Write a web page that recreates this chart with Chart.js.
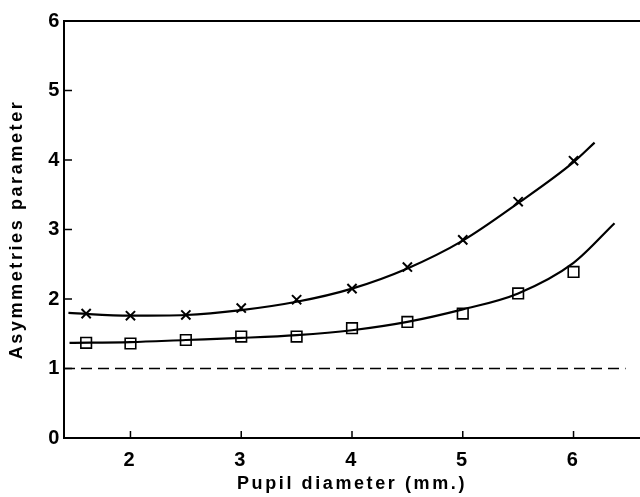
<!DOCTYPE html>
<html>
<head>
<meta charset="utf-8">
<script src="https://cdn.jsdelivr.net/npm/chart.js@4/dist/chart.umd.min.js"></script>
<style>
  html, body { margin: 0; padding: 0; background: #fff; }
  #wrap { width: 640px; height: 497px; }
</style>
</head>
<body>
<div id="wrap"><canvas id="myChart" width="640" height="497"></canvas></div>
<script>
// measured points
const pupil = [1.6, 2.0, 2.5, 3.0, 3.5, 4.0, 4.5, 5.0, 5.5, 6.0];
const crosses = [1.79, 1.76, 1.77, 1.87, 1.99, 2.15, 2.46, 2.85, 3.40, 3.99];
const squares = [1.37, 1.36, 1.41, 1.46, 1.46, 1.58, 1.67, 1.79, 2.08, 2.39];

// hand-drawn fitted curves
const crossFitX = [1.44, 2.0, 2.5, 3.0, 3.5, 4.0, 4.5, 5.0, 5.5, 6.0, 6.19];
const crossFitY = [1.80, 1.76, 1.77, 1.84, 1.96, 2.15, 2.44, 2.84, 3.38, 3.97, 4.25];
const squareFitX = [1.45, 2.0, 2.5, 3.0, 3.5, 4.0, 4.5, 5.0, 5.5, 6.0, 6.37];
const squareFitY = [1.37, 1.38, 1.41, 1.44, 1.48, 1.55, 1.67, 1.85, 2.08, 2.52, 3.09];

// reference line
const refX = [1.4, 6.47];
const refY = [1, 1];

const xTicks = [2, 3, 4, 5, 6];

const toXY = (xs, ys) => xs.map((x, i) => ({ x, y: ys[i] }));

const context = document.getElementById('myChart').getContext('2d');

// short tick marks pointing into the plot
const innerTicks = {
  id: 'innerTicks',
  afterDraw(chart) {
    const ctx = chart.ctx;
    const { left, bottom } = chart.chartArea;
    const xs = chart.scales.x;
    const ys = chart.scales.y;
    ctx.save();
    ctx.strokeStyle = '#000';
    ctx.lineWidth = 1.5;
    ctx.beginPath();
    xTicks.forEach(v => {
      const px = xs.getPixelForValue(v);
      ctx.moveTo(px, bottom);
      ctx.lineTo(px, bottom - 7);
    });
    [1, 2, 3, 4, 5].forEach(v => {
      const py = ys.getPixelForValue(v);
      ctx.moveTo(left, py);
      ctx.lineTo(left + 8, py);
    });
    ctx.stroke();
    ctx.restore();
  }
};

const spacing = {
  id: 'spacing',
  beforeDraw(chart) {
    chart.ctx.letterSpacing = '2.6px';
  }
};

const fitLine = {
  showLine: true,
  borderColor: '#000',
  borderWidth: 2.2,
  pointRadius: 0,
  cubicInterpolationMode: 'monotone',
  fill: false,
};

const data = {
  datasets: [
    { label: 'x fit', data: toXY(crossFitX, crossFitY), ...fitLine },
    { label: 'square fit', data: toXY(squareFitX, squareFitY), ...fitLine },
    {
      label: 'reference',
      data: toXY(refX, refY),
      showLine: true,
      borderColor: '#000',
      borderWidth: 1.6,
      borderDash: [11, 6],
      pointRadius: 0,
      fill: false,
    },
    {
      label: 'crosses',
      data: toXY(pupil, crosses),
      showLine: false,
      pointStyle: 'crossRot',
      pointRadius: 6.5,
      pointBorderWidth: 2,
      pointBorderColor: '#000',
    },
    {
      label: 'squares',
      data: toXY(pupil, squares),
      showLine: false,
      pointStyle: 'rect',
      pointRadius: 7.5,
      pointBorderWidth: 1.6,
      pointBorderColor: '#000',
      pointBackgroundColor: '#fff',
    },
  ],
};

const config = {
  type: 'scatter',
  data,
  options: {
    responsive: false,
    animation: false,
    layout: { autoPadding: false, padding: { top: 21, right: 0, left: 0, bottom: 0 } },
    plugins: {
      legend: { display: false },
      tooltip: { enabled: false },
    },
    scales: {
      x: {
        type: 'linear',
        min: 1.4,
        max: 6.6,
        afterBuildTicks: s => { s.ticks = xTicks.map(v => ({ value: v })); },
        afterFit: s => { s.height = 59; s.paddingRight = 0; s.paddingLeft = 0; },
        grid: { display: false, drawTicks: false },
        border: { display: true, color: '#000', width: 2 },
        ticks: {
          color: '#000',
          padding: 10,
          font: { family: 'Liberation Sans', size: 20, weight: 'bold' },
        },
        title: {
          display: true,
          text: 'Pupil diameter (mm.)',
          color: '#000',
          padding: { top: 0, bottom: 2 },
          font: { family: 'Liberation Sans', size: 18, weight: 'bold' },
        },
      },
      y: {
        min: 0,
        max: 6,
        afterFit: s => { s.width = 64; s.paddingTop = 0; s.paddingBottom = 0; },
        grid: {
          drawTicks: false,
          lineWidth: 2,
          color: c => (c.tick && c.tick.value === 6 ? '#000' : 'rgba(0,0,0,0)'),
        },
        border: { display: true, color: '#000', width: 2 },
        ticks: {
          stepSize: 1,
          color: '#000',
          padding: 2,
          font: { family: 'Liberation Sans', size: 20, weight: 'bold' },
        },
        title: {
          display: true,
          text: 'Asymmetries parameter',
          color: '#000',
          padding: { top: 6, bottom: 0 },
          font: { family: 'Liberation Sans', size: 18, weight: 'bold' },
        },
      },
    },
  },
  plugins: [spacing, innerTicks],
};

const myChart = new Chart(context, config);
</script>
</body>
</html>
